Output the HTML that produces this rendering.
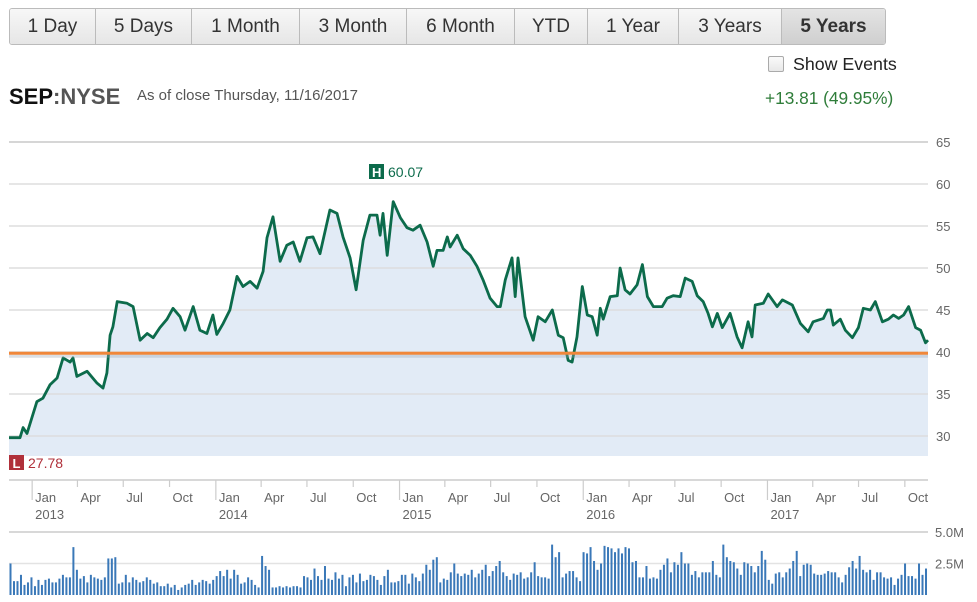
<!DOCTYPE html>
<html><head><meta charset="utf-8">
<style>
body{margin:0;width:977px;height:602px;background:#fff;font-family:"Liberation Sans",Arial,sans-serif;overflow:hidden;position:relative}
.btns{position:absolute;left:9px;top:8px;height:35px;display:flex;border:1px solid #bbb;border-radius:3px;overflow:hidden}
.btn{height:35px;line-height:35px;text-align:center;font-size:19px;color:#333;background:linear-gradient(#f7f7f7,#e6e6e6);border-right:1px solid #bbb;box-sizing:border-box}
.btn.act{background:linear-gradient(#e4e4e4,#cfcfcf);font-weight:bold;color:#333;border-right:none}
</style></head><body>
<div class="btns">
<div class="btn" style="width:86px">1 Day</div>
<div class="btn" style="width:96px">5 Days</div>
<div class="btn" style="width:108px">1 Month</div>
<div class="btn" style="width:107px">3 Month</div>
<div class="btn" style="width:108px">6 Month</div>
<div class="btn" style="width:73px">YTD</div>
<div class="btn" style="width:91px">1 Year</div>
<div class="btn" style="width:103px">3 Years</div>
<div class="btn act" style="width:103px">5 Years</div>
</div>
<div style="position:absolute;left:768px;top:56px;width:14px;height:14px;border:1px solid #aaa;border-radius:2px;background:linear-gradient(#fafafa,#e8e8e8)"></div>
<div style="position:absolute;left:793px;top:54px;font-size:17.8px;color:#222">Show Events</div>
<div style="position:absolute;left:765px;top:88px;font-size:17.3px;color:#2f7d3a">+13.81 (49.95%)</div>
<div style="position:absolute;left:9px;top:84px;font-size:22px;font-weight:bold"><span style="color:#111">SEP</span><span style="color:#555">:NYSE</span></div>
<div style="position:absolute;left:137px;top:87px;font-size:15px;color:#555">As of close Thursday, 11/16/2017</div>
<svg id="c" width="977" height="602" style="position:absolute;left:0;top:0"></svg>
<script>
const priceWeeks=[0,3.1,4,5.1,7.9,9.6,11.6,13.6,15.3,17.3,18.1,19.2,22.1,24.9,26.6,27.7,28.6,29.4,30.6,33.4,35.1,37.1,39.1,40.8,42.7,44.7,46.4,48.4,49.8,52.1,54.0,56.0,57.7,58.8,60.6,62.5,64.5,66.2,68.2,70.2,71.9,73.0,74.7,76.7,78.6,80.4,82.3,84.3,86.0,88.0,90.8,92.8,94.5,96.5,98.2,100.2,102.1,104.1,105.0,105.8,107.0,108.7,110.7,112.6,114.3,116.3,118.3,120.0,121.1,122.8,124.0,124.8,126.8,128.5,130.5,132.4,134.1,136.1,138.1,139.0,140.4,142.3,143.2,144.0,146.0,148.3,149.7,151.7,153.7,155.4,156.8,158.2,159.3,160.7,162.2,163.6,165.0,166.4,167.3,168.1,170.1,172.1,172.9,174.3,175.7,177.7,179.2,180.6,182.3,184.8,186.2,187.9,189.9,191.3,193.3,194.7,196.4,197.8,199.0,200.4,201.8,204.0,206.0,207.4,209.1,210.2,211.1,213.4,214.8,217.3,218.8,221.6,223.9,226.1,227.5,230.4,231.5,232.4,233.2,235.2,236.6,238.6,240.3,241.7,243.7,245.1,247.1,248.8,250.2,251.7,253.1,254.5,256.5,257.9,259.3,260];
const prices=[29.8,29.8,31.0,30.3,34.1,34.5,36.1,36.9,39.3,38.8,39.3,37.1,37.7,36.3,35.7,37.5,42.0,43.0,46.0,45.8,45.4,41.4,42.2,41.7,42.9,43.9,45.2,44.2,42.6,45.4,42.6,42.2,44.4,42.1,43.4,45.0,49.0,47.8,48.4,47.6,49.6,53.6,56.1,50.8,52.7,53.1,50.8,53.6,53.7,51.7,56.9,56.5,53.7,51.2,47.4,53.3,56.3,56.3,53.9,56.5,51.5,57.9,56.0,54.8,54.5,55.1,53.1,50.2,52.1,52.1,53.7,52.5,53.9,52.3,51.5,50.2,48.6,46.4,45.4,45.4,48.6,51.2,46.6,51.2,44.2,41.4,44.2,43.6,45.0,42.0,41.7,39.0,38.8,41.8,47.8,44.4,44.2,42.0,45.2,43.9,46.6,46.7,50.0,47.4,46.9,48.0,50.4,46.6,45.4,45.4,46.4,46.7,46.6,48.8,48.4,46.7,46.0,44.6,43.0,44.6,42.9,44.6,41.8,40.5,43.6,41.8,45.6,45.8,46.9,45.4,46.2,45.6,43.4,42.4,43.6,44.0,45.0,45.0,43.2,43.9,42.6,41.7,42.9,45.2,45.0,46.0,43.6,43.9,44.4,44.0,44.4,45.4,42.9,42.6,41.1,41.4];
const volumes=[2.5,1.1,1.1,1.6,0.8,1.0,1.4,0.7,1.2,0.8,1.2,1.3,1.0,
1.0,1.3,1.6,1.4,1.4,3.8,2.0,1.3,1.5,1.0,1.6,1.4,1.3,
1.2,1.4,2.9,2.9,3.0,0.9,1.0,1.6,1.0,1.4,1.2,1.0,1.1,
1.4,1.2,0.9,1.0,0.7,0.7,0.9,0.6,0.8,0.4,0.6,0.8,0.9,
1.2,0.8,1.0,1.2,1.1,0.9,1.2,1.5,1.9,1.5,2.0,1.3,2.0,
1.6,0.9,1.0,1.4,1.2,0.8,0.6,3.1,2.3,2.0,0.6,0.6,0.7,
0.6,0.7,0.6,0.7,0.7,0.6,1.5,1.4,1.2,2.1,1.5,1.2,2.3,
1.3,1.2,1.8,1.3,1.6,0.7,1.4,1.6,1.0,1.7,1.1,1.2,1.6,
1.5,1.2,0.8,1.5,2.0,1.0,1.0,1.1,1.6,1.6,0.9,1.7,1.4,
1.1,1.7,2.4,2.0,2.8,3.0,1.0,1.3,1.2,1.8,2.5,1.7,1.5,
1.7,1.6,2.0,1.4,1.7,2.0,2.4,1.5,1.9,2.3,2.7,1.8,1.5,
1.2,1.7,1.6,1.8,1.3,1.4,1.8,2.6,1.5,1.4,1.4,1.3,4.0,
3.0,3.4,1.4,1.7,1.9,1.9,1.4,1.1,3.4,3.3,3.8,2.7,2.0,
2.5,3.9,3.8,3.7,3.4,3.7,3.3,3.8,3.7,2.6,2.7,1.4,1.4,
2.3,1.3,1.4,1.3,2.0,2.4,2.9,1.8,2.6,2.4,3.4,2.5,2.5,
1.6,1.9,1.4,1.8,1.8,1.8,2.7,1.6,1.4,4.0,3.0,2.7,2.6,
2.1,1.6,2.6,2.5,2.3,1.8,2.3,3.5,2.8,1.2,0.9,1.7,1.8,
1.4,1.8,2.1,2.7,3.5,1.5,2.4,2.5,2.4,1.7,1.6,1.6,1.7,
1.9,1.8,1.8,1.4,1.0,1.6,2.2,2.7,2.1,3.1,2.0,1.8,2.0,
1.2,1.8,1.8,1.4,1.3,1.4,0.8,1.3,1.6,2.5,1.5,1.5,1.3,2.5,1.6,2.1];
const priceTicks=[65,60,55,50,45,40,35,30];
const volTicks=[5.0,2.5];
const volTickLabels=["5.0M","2.5M"];
const monthLabels=["Jan","Apr","Jul","Oct","Jan","Apr","Jul","Oct","Jan","Apr","Jul","Oct","Jan","Apr","Jul","Oct","Jan","Apr","Jul","Oct"];
const monthDays=[46,136,227,319,411,501,592,684,776,866,957,1049,1141,1232,1323,1415,1507,1597,1688,1780];
const yearLabels=["2013","2014","2015","2016","2017"];
const supportLevel=39.85;
const highValue="60.07", lowValue="27.78";

const X0=9,X1=928,Y65=142,PPU=8.4,VB=595,VPM=12.6,TOTALW=260,TOTALD=1826;
const xw=w=>X0+w/TOTALW*(X1-X0);
const xd=d=>X0+d/TOTALD*(X1-X0);
const yp=v=>Y65+(65-v)*PPU;
const yv=v=>VB-v*VPM;
const svg=document.getElementById('c');
const NS='http://www.w3.org/2000/svg';
function mk(t,a,txt){const e=document.createElementNS(NS,t);for(const k in a)e.setAttribute(k,a[k]);if(txt!=null)e.textContent=txt;svg.appendChild(e);return e;}

let pts=priceWeeks.map((w,i)=>xw(w).toFixed(1)+','+yp(prices[i]).toFixed(1));
const area=mk('polygon',{points:X0+',456 '+pts.join(' ')+' '+X1+',456',fill:'#e2ebf6'});


priceTicks.forEach(v=>{
 const g=mk('line',{x1:X0,x2:X1,y1:yp(v),y2:yp(v),stroke:v==65?'#c8c8c8':'#dddddd','stroke-width':1.5});
 
 
 const t=mk('text',{x:936,y:yp(v)+5,'font-size':13,fill:'#666'},String(v));
 
 
});
const ln=mk('polyline',{points:pts.join(' '),fill:'none',stroke:'#0c6b4b','stroke-width':2.8,'stroke-linejoin':'round'});


const sh=mk('line',{x1:X0,x2:X1,y1:yp(supportLevel)+3,y2:yp(supportLevel)+3,stroke:'#9aa6b4','stroke-width':3,opacity:0.35});


const sl=mk('line',{x1:X0,x2:X1,y1:yp(supportLevel),y2:yp(supportLevel),stroke:'#f0873a','stroke-width':3});


const hb=mk('rect',{x:369,y:164,width:15,height:15,fill:'#0c6b4b'});


mk('text',{x:372,y:177,'font-size':13,fill:'#fff','font-weight':'bold'},'H');
const ht=mk('text',{x:388,y:177,'font-size':14,fill:'#0c6b4b'},highValue);


const lb=mk('rect',{x:9,y:455,width:15,height:15,fill:'#b0303a'});


mk('text',{x:12.5,y:468,'font-size':13,fill:'#fff','font-weight':'bold'},'L');
const lt=mk('text',{x:28,y:468,'font-size':14,fill:'#b0303a'},lowValue);


const ax=mk('line',{x1:X0,x2:X1,y1:480,y2:480,stroke:'#ccc','stroke-width':1.5});


monthDays.forEach((d,i)=>{
 const x=xd(d),isJan=monthLabels[i]=='Jan';
 const tk=mk('line',{x1:x,x2:x,y1:480,y2:isJan?500:487,stroke:'#ccc','stroke-width':1.2});
 
 
 const t=mk('text',{x:x+3,y:502,'font-size':13,fill:'#666'},monthLabels[i]);
 
 
 if(isJan){
  const y=mk('text',{x:x+3,y:519,'font-size':13,fill:'#666'},yearLabels[Math.floor(i/4)]);
  
  
 }
});
volTicks.forEach((v,i)=>{
 const g=mk('line',{x1:X0,x2:X1,y1:yv(v),y2:yv(v),stroke:i==0?'#ccc':'#e3e3e3','stroke-width':1.5});
 
 
 const t=mk('text',{x:935,y:yv(v)+5,'font-size':13,fill:'#666'},volTickLabels[i]);
 
 
});
const step=(X1-X0)/volumes.length;
volumes.forEach((v,i)=>{
 const b=mk('rect',{x:X0+i*step+0.5,y:yv(v),width:2,height:v*VPM,fill:'#3a78b8'});
 
 
});
</script>
</body></html>
